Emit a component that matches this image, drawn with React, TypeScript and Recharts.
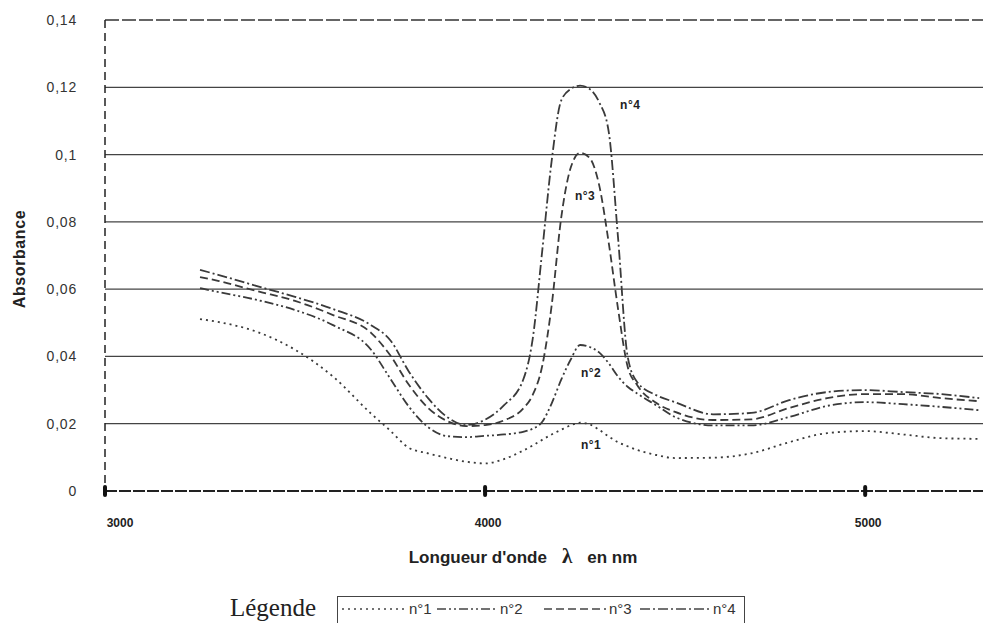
import { LineChart, Line, XAxis, YAxis, ReferenceLine, ReferenceDot, Label } from "recharts"

// wavelengths (nm) and absorbance
const wavelengths = [
  3250, 3300, 3400, 3500, 3600, 3700, 3750, 3800, 3850, 3900, 3950, 4000, 4050, 4100, 4125, 4150, 4175, 4200,
  4225, 4250, 4275, 4300, 4325, 4350, 4375, 4400, 4450, 4500, 4600, 4700, 4800, 4900, 5000, 5100, 5200, 5300,
]
const n1 = [
  0.0511, 0.0502, 0.0473, 0.042, 0.034, 0.023, 0.018, 0.0128, 0.0112, 0.0098, 0.0087, 0.0082, 0.0095, 0.012, 0.0135,
  0.0152, 0.0168, 0.0182, 0.0195, 0.0203, 0.0198, 0.0182, 0.0162, 0.0145, 0.0133, 0.0122, 0.0107, 0.0098, 0.0099,
  0.0112, 0.0145, 0.0172, 0.0178, 0.0168, 0.0157, 0.0155,
]
const n2 = [
  0.0603, 0.0591, 0.0568, 0.0538, 0.0493, 0.042, 0.0335, 0.025, 0.019, 0.0163, 0.016, 0.0164, 0.0168, 0.0176, 0.0185,
  0.0205, 0.026, 0.033, 0.039, 0.0434, 0.0428, 0.0412, 0.038, 0.034, 0.031, 0.029, 0.0255, 0.022, 0.0195, 0.0195, 0.022,
  0.0253, 0.0264, 0.0258, 0.025, 0.024,
]
const n3 = [
  0.0636, 0.0624, 0.0594, 0.0565, 0.0523, 0.047, 0.0404, 0.0315, 0.0247, 0.0208, 0.0193, 0.0196, 0.021, 0.0245, 0.0285,
  0.037, 0.055, 0.081, 0.096, 0.1005, 0.099, 0.091, 0.074, 0.054, 0.037, 0.0315, 0.0262, 0.0235, 0.0211, 0.0213,
  0.0247, 0.0276, 0.0288, 0.0288, 0.0276, 0.0267,
]
const n4 = [
  0.0657, 0.0642, 0.0609, 0.0577, 0.0541, 0.0493, 0.0449, 0.0354, 0.0276, 0.022, 0.0196, 0.0212, 0.0255, 0.033, 0.045,
  0.071, 0.098, 0.116, 0.1195, 0.1205, 0.1195, 0.1156, 0.107, 0.075, 0.04, 0.0324, 0.0285, 0.0264, 0.0228, 0.0232,
  0.027, 0.0294, 0.03, 0.0294, 0.0288, 0.0276,
]

const seriesKeys = ["n1", "n2", "n3", "n4"]
const seriesNames = ["n°1", "n°2", "n°3", "n°4"]
const seriesDash = ["2 4", "9 3 2 3 2 3", "8 4", "10 3 2 3"]

const yTicks = [0, 0.02, 0.04, 0.06, 0.08, 0.1, 0.12, 0.14]
const gridValues = [0.02, 0.04, 0.06, 0.08, 0.1, 0.12]
const xTicks = [3000, 4000, 5000]

// where the "n°x" tags sit, in data units
const curveTags = [
  { text: "n°4", x: 4382, y: 0.1147 },
  { text: "n°3", x: 4263, y: 0.0877 },
  { text: "n°2", x: 4279, y: 0.0351 },
  { text: "n°1", x: 4279, y: 0.0137 },
]

const data = wavelengths.map((w, i) => ({ w, n1: n1[i], n2: n2[i], n3: n3[i], n4: n4[i] }))

const ink = "#333"
const sans = "'Liberation Sans', Arial, sans-serif"

const fmtY = (v: number) => (v === 0 ? "0" : String(+v.toFixed(2)).replace(".", ","))

const XTick = ({ x, y, payload, index }: any) => (
  <g>
    <rect x={x - 2} y={y - 6} width={4} height={12} rx={2} fill="#111" />
    <text x={x + (index === 0 ? 15 : 3)} y={y + 36} textAnchor="middle" fontFamily={sans} fontWeight={700} fontSize={12} fill="#222">
      {payload.value}
    </text>
  </g>
)

// legend sample widths / offsets inside the box
const legendLeft = [4, 99, 206, 302]
const legendSample = [64, 60, 62, 70]

export default function App() {
  return (
    <div style={{ position: "absolute", left: 0, top: 0, width: 983, height: 623, overflow: "hidden", background: "#fff" }}>
      <LineChart width={983} height={623} data={data} margin={{ top: 20, right: 0, bottom: 72, left: 0 }}>
        <XAxis
          type="number"
          dataKey="w"
          domain={[3000, 5310]}
          ticks={xTicks}
          height={60}
          tickSize={0}
          tickMargin={0}
          tickLine={false}
          axisLine={{ stroke: "#222", strokeWidth: 2, strokeDasharray: "12 2" }}
          tick={<XTick />}
        >
          <Label
            content={() => (
              <text x={523} y={563} textAnchor="middle" fontFamily={sans} fontWeight={700} fontSize={17} fill="#222">
                Longueur d'onde
                <tspan fontFamily="'Liberation Serif', serif" fontSize={21} dx={15}>λ</tspan>
                <tspan dx={15}>en nm</tspan>
              </text>
            )}
          />
        </XAxis>
        <YAxis
          domain={[0, 0.14]}
          ticks={yTicks}
          width={105}
          tickSize={0}
          tickMargin={28}
          tickLine={false}
          tickFormatter={fmtY}
          tick={{ fill: ink, fontSize: 14, fontFamily: sans, letterSpacing: 0.8 }}
          axisLine={{ stroke: "#222", strokeWidth: 1.5, strokeDasharray: "8 5" }}
        >
          <Label
            content={() => (
              <text x={25} y={259} transform="rotate(-90 25 259)" textAnchor="middle" fontFamily={sans} fontWeight={700} fontSize={16} letterSpacing={0.6} fill="#222">
                Absorbance
              </text>
            )}
          />
        </YAxis>
        {gridValues.map((g) => (
          <ReferenceLine key={g} y={g} stroke="#444" strokeWidth={1.3} />
        ))}
        <ReferenceLine y={0.14} stroke="#333" strokeWidth={1.5} strokeDasharray="14 3" />
        {seriesKeys.map((k, i) => (
          <Line
            key={k}
            dataKey={k}
            name={seriesNames[i]}
            type="monotone"
            stroke="#3a3a3a"
            strokeWidth={1.8}
            strokeDasharray={seriesDash[i]}
            dot={false}
            isAnimationActive={false}
          />
        ))}
        {curveTags.map((t) => (
          <ReferenceDot
            key={t.text}
            x={t.x}
            y={t.y}
            r={0}
            shape={(p: any) => (
              <text x={p.cx} y={p.cy} textAnchor="middle" dominantBaseline="central" fontFamily={sans} fontWeight={700} fontSize={12} letterSpacing={0.5} fill="#222">
                {t.text}
              </text>
            )}
          />
        ))}
      </LineChart>
      <div style={{ position: "absolute", left: 230, top: 594, fontFamily: "'Liberation Serif', 'Times New Roman', serif", fontSize: 25, color: "#222" }}>
        Légende
      </div>
      <div
        style={{
          position: "absolute",
          left: 337,
          top: 596,
          width: 406,
          height: 30,
          border: "1.5px solid #444",
          fontFamily: sans,
          fontSize: 15,
          color: ink,
        }}
      >
        {seriesNames.map((n, i) => (
          <div key={n} style={{ position: "absolute", left: legendLeft[i], top: 3, display: "flex", alignItems: "center" }}>
            <svg width={legendSample[i]} height={10}>
              <line x1={0} y1={5} x2={legendSample[i]} y2={5} stroke="#444" strokeWidth={1.6} strokeDasharray={seriesDash[i]} />
            </svg>
            <span style={{ marginLeft: 3 }}>{n}</span>
          </div>
        ))}
      </div>
    </div>
  )
}
